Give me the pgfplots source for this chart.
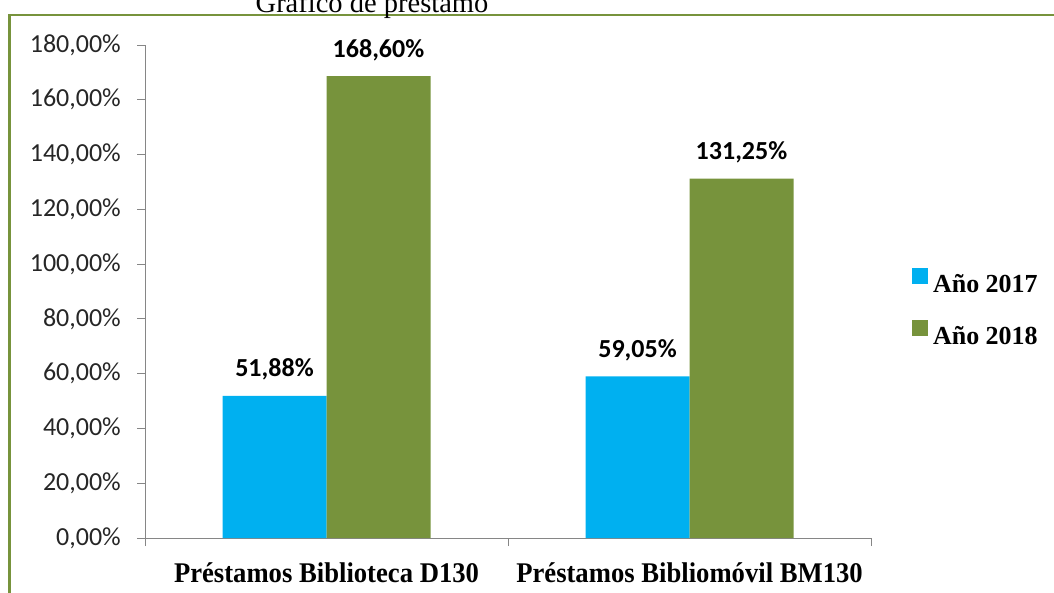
\documentclass[border=0pt]{standalone}
\usepackage{fontspec}
\setmainfont{Liberation Serif}
\newfontfamily\carlito{Carlito}
\newfontfamily\condserif[FakeStretch=0.935]{Liberation Serif}
\usepackage{pgfplots}
\pgfplotsset{compat=1.18}
\definecolor{cblue}{HTML}{00B0F0}
\definecolor{cgreen}{HTML}{77933C}
\definecolor{framegreen}{HTML}{77933C}
\definecolor{axisgray}{HTML}{868686}
\definecolor{labgray}{HTML}{262626}
\begin{document}
\begin{tikzpicture}[x=1pt,y=1pt]
\useasboundingbox (0,0) rectangle (1054,-593);
\clip (0,0) rectangle (1054,-593);
\draw[framegreen, line width=2.6pt] (9.2,-700) -- (9.2,-15) -- (1100,-15);
\node[anchor=base, inner sep=0pt, font=\fontsize{28.5}{30}\selectfont] at (372,-13) {Gráfico de préstamo};
\begin{axis}[
  at={(145pt,-538pt)}, anchor=south west, scale only axis,
  width=726pt, height=493pt,
  xmin=-0.5, xmax=1.5, ymin=0, ymax=180,
  ybar=0pt, bar width=104pt,
  axis x line*=bottom, axis y line*=left,
  axis line style={draw=axisgray, line width=0.9pt},
  tick style={draw=axisgray, line width=0.9pt},
  tick align=outside,
  major tick length=8pt,
  /pgf/number format/assume math mode=true,
  ytick={0,20,...,180},
  yticklabel={\pgfmathprintnumber[fixed,fixed zerofill,precision=2,use comma]{\tick}\%},
  yticklabel style={font=\carlito\fontsize{26}{28}\selectfont, text=labgray, anchor=east, inner sep=0pt, xshift=-16pt},
  xtick={-0.5,0.5,1.5},
  xticklabels={},
  extra x ticks={0,1},
  extra x tick labels={Préstamos Biblioteca D130, Préstamos Bibliomóvil BM130},
  extra x tick style={major tick length=0pt, xticklabel style={font=\condserif\bfseries\fontsize{28.5}{30}\selectfont, anchor=base, inner sep=0pt, yshift=-44pt}},
  nodes near coords={\pgfmathprintnumber[fixed,fixed zerofill,precision=2,use comma]{\pgfplotspointmeta}\%},
  every node near coord/.append style={font=\carlito\bfseries\fontsize{26}{28}\selectfont, text=black, anchor=base, inner sep=0pt, yshift=19pt},
  legend style={at={(1.0565,0.5476)}, anchor=north west, draw=none, fill=none, inner sep=0pt, outer sep=0pt,
    font=\bfseries\fontsize{26}{28}\selectfont,
    nodes={inner sep=0pt, text height=18pt, text depth=0pt},
    row sep=28pt, column sep=5pt},
  legend image code/.code={\fill[#1] (0pt,-1pt) rectangle (16pt,15pt);},
  legend cell align=left,
]
\addplot[fill=cblue, draw=none] coordinates {(0,51.88) (1,59.05)};
\addplot[fill=cgreen, draw=none] coordinates {(0,168.60) (1,131.25)};
\legend{Año 2017, Año 2018}
\end{axis}
\end{tikzpicture}
\end{document}
